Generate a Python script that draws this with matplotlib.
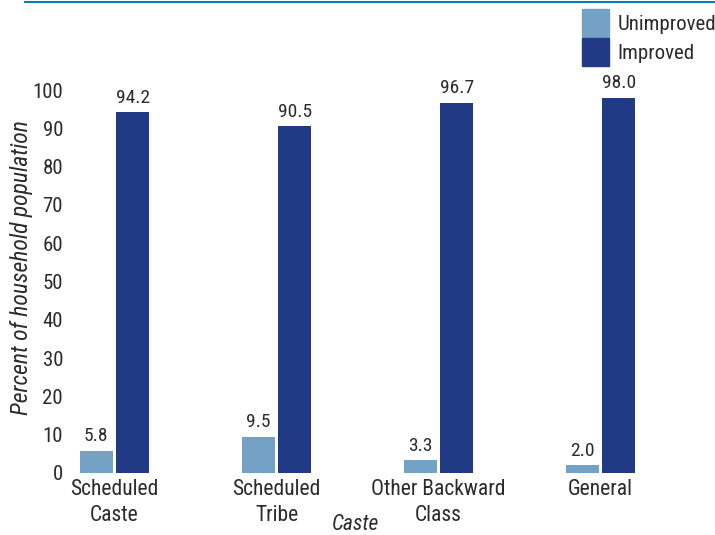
import matplotlib.pyplot as plt
import numpy as np
from matplotlib.patches import Patch
from matplotlib.lines import Line2D

categories = ['Scheduled\nCaste', 'Scheduled\nTribe', 'Other Backward\nClass', 'General']
unimproved = [5.8, 9.5, 3.3, 2.0]
improved = [94.2, 90.5, 96.7, 98.0]
yticks = list(range(0, 101, 10))

LIGHT = '#74a2c7'
DARK = '#213a85'
TEXT = '#2b2b2b'

plt.rcParams['font.family'] = ['Roboto Condensed', 'DejaVu Sans']

fig = plt.figure(figsize=(7.15, 5.35), dpi=100)
ax = fig.add_axes([70 / 715, (535 - 473) / 535, 645 / 715, 383 / 535])

x = np.arange(len(categories))
w = 0.204
off = 0.113
b1 = ax.bar(x - off, unimproved, w, color=LIGHT)
b2 = ax.bar(x + off, improved, w, color=DARK)

for bars, vals in ((b1, unimproved), (b2, improved)):
    for r, v in zip(bars, vals):
        ax.annotate(f'{v:.1f}', (r.get_x() + r.get_width() / 2, v),
                    xytext=(0, 4), textcoords='offset points',
                    ha='center', va='bottom', fontsize=14, color=TEXT)

ax.set_xlim(-0.275, 3.706)
ax.set_ylim(0, 100)
ax.set_yticks(yticks)
ax.set_xticks(x)
ax.set_xticklabels(categories, fontsize=15.5, color=TEXT, linespacing=1.35)
ax.tick_params(axis='y', labelsize=15, labelcolor=TEXT, length=0, pad=5)
ax.tick_params(axis='x', length=0, pad=4)
for s in ax.spines.values():
    s.set_visible(False)

fig.text(22 / 715, 1 - 268 / 535, 'Percent of household population', fontsize=17,
         style='italic', color=TEXT, rotation=90, ha='center', va='center')
fig.text(355 / 715, 1 - 524 / 535, 'Caste', fontsize=15.5, style='italic',
         color=TEXT, ha='center', va='center')

# top rule
fig.add_artist(Line2D([25 / 715, 1], [1 - 2 / 535, 1 - 2 / 535],
                      transform=fig.transFigure, color='#0a7ab0', lw=1.5))

handles = [Patch(color=LIGHT, label='Unimproved'), Patch(color=DARK, label='Improved')]
fig.legend(handles=handles, loc='upper left', bbox_to_anchor=(578 / 715, 1 - 5 / 535),
           frameon=False, fontsize=15, handlelength=1.3, handleheight=1.7,
           handletextpad=0.4, labelspacing=0.05, borderaxespad=0, borderpad=0.2,
           labelcolor=TEXT)

fig.savefig('out.png', dpi=100)
